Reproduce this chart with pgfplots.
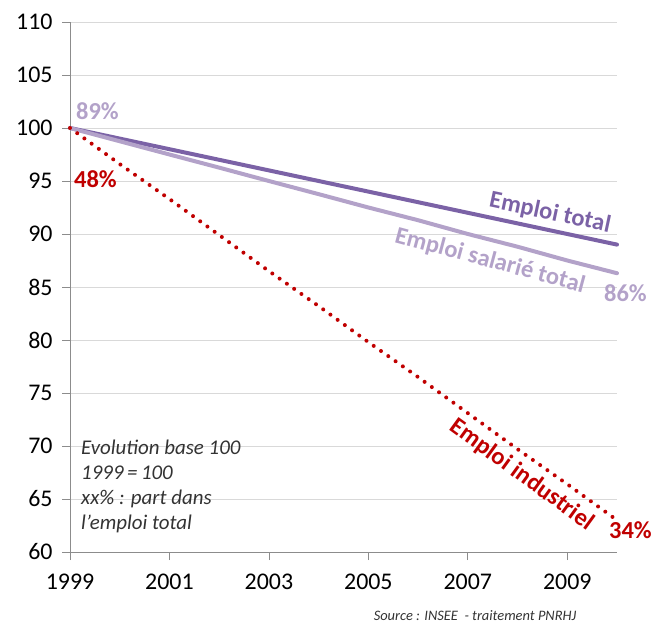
\documentclass[border=0pt]{standalone}
\usepackage{pgfplots}
\pgfplotsset{compat=1.18}
\usepackage{fontspec}
\setmainfont{Carlito}
\definecolor{ptot}{HTML}{7B62A6}
\definecolor{psal}{HTML}{B3A2C9}
\definecolor{rind}{HTML}{C00000}
\definecolor{gridc}{HTML}{D9D9D9}
\definecolor{axc}{HTML}{8C8C8C}
\definecolor{notec}{HTML}{333333}
\begin{document}
\begin{tikzpicture}
\path[use as bounding box] (0bp,0bp) rectangle (654bp,630bp);
\begin{axis}[
  at={(70bp,78bp)}, anchor=south west,
  scale only axis, width=547bp, height=530bp,
  xmin=1999, xmax=2010, ymin=60, ymax=110,
  xtick={1999,2001,2003,2005,2007,2009},
  ytick={60,65,70,75,80,85,90,95,100,105,110},
  axis x line=bottom, axis y line=left,
  axis line style={-, draw=axc, line width=0.8bp},
  tick style={draw=axc, line width=0.8bp},
  tick align=outside, major tick length=8bp,
  ymajorgrids, grid style={draw=gridc, line width=0.8bp},
  /pgf/number format/1000 sep={},
  /pgf/number format/assume math mode=true,
  ticklabel style={font=\fontsize{24}{28}\selectfont, text=black},
  yticklabel style={xshift=-6bp},
  xticklabel style={yshift=-10bp},
  clip=false,
]
\addplot[ptot, line width=4bp, line cap=round] coordinates {
 (1999,100) (2000,99) (2001,98) (2002,97) (2003,96) (2004,95)
 (2005,94) (2006,93) (2007,92) (2008,91) (2009,90) (2010,89)};
\addplot[psal, line width=4bp, line cap=round] coordinates {
 (1999,100) (2000,98.75) (2001,97.5) (2002,96.26) (2003,95.0) (2004,93.76)
 (2005,92.5) (2006,91.3) (2007,90.0) (2008,88.8) (2009,87.5) (2010,86.3)};
\addplot[rind, line width=4bp, line cap=round, dash pattern=on 0bp off 8.9bp] coordinates {
 (1999,100) (2000,96.6) (2001,93.3) (2002,89.9) (2003,86.5) (2004,83.2)
 (2005,79.8) (2006,76.5) (2007,73.1) (2008,69.7) (2009,66.4) (2010,63.0)};
\end{axis}
\begin{scope}[every node/.style={inner sep=0pt, font=\fontsize{24.5}{28}\selectfont\bfseries}]
\node[text=psal, anchor=base west] at (76bp,510bp) {89\%};
\node[text=rind, anchor=base west] at (74bp,442bp) {48\%};
\node[text=psal, anchor=base west] at (604bp,328bp) {86\%};
\node[text=rind, anchor=base west] at (609bp,91bp) {34\%};
\node[text=ptot, rotate=-12] at (550bp,417bp) {Emploi total};
\node[text=psal, rotate=-15] at (490bp,369bp) {Emploi salarié total};
\node[text=rind, rotate=-36] at (522bp,155bp) {Emploi industriel};
\end{scope}
\begin{scope}[every node/.style={inner sep=0pt, anchor=base west, text=notec, font=\fontsize{21}{25}\selectfont\itshape}]
\node at (81bp,175bp) {Evolution base 100};
\node at (81bp,150bp) {1999\,=\,100};
\node at (81bp,125bp) {xx\% : part dans};
\node at (81bp,100bp) {l'emploi total};
\end{scope}
\node[inner sep=0pt, anchor=base, text=notec, font=\fontsize{14.5}{17}\selectfont\itshape] at (475bp,10bp) {Source : INSEE~~- traitement PNRHJ};
\end{tikzpicture}
\end{document}
